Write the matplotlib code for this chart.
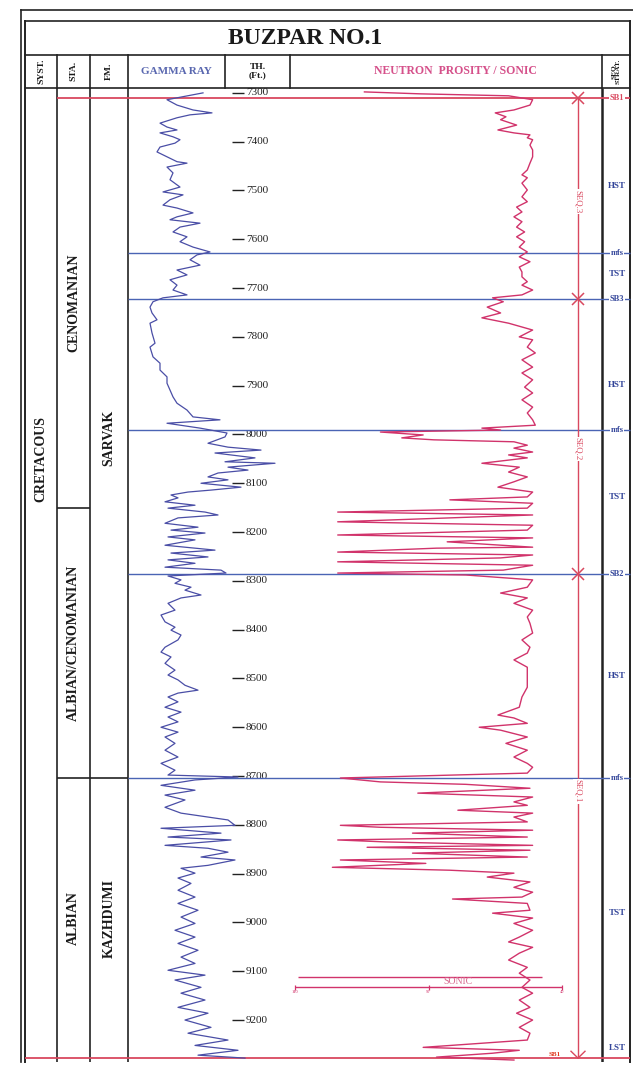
import matplotlib
matplotlib.use('Agg')
import matplotlib.pyplot as plt

plt.rcParams['font.family'] = ['Liberation Serif', 'DejaVu Serif']

gr_depth = [7300, 7314, 7325, 7335, 7341, 7345, 7351, 7362, 7370, 7376, 7382, 7390, 7396, 7403,
            7411, 7421, 7431, 7441, 7444, 7452, 7464, 7478, 7493, 7503, 7509, 7519, 7530, 7536,
            7546, 7554, 7560, 7567, 7575, 7585, 7595, 7605, 7616, 7626, 7632, 7642, 7653, 7663,
            7673, 7683, 7694, 7704, 7714, 7720, 7728, 7739, 7751, 7765, 7772, 7792, 7813, 7821,
            7841, 7854, 7868, 7882, 7895, 7909, 7923, 7936, 7950, 7964, 7970, 7977, 7987, 7997,
            8005, 8018, 8026, 8032, 8038, 8048, 8056, 8059, 8067, 8073, 8079, 8087, 8093, 8100,
            8108, 8114, 8118, 8124, 8130, 8138, 8145, 8151, 8159, 8165, 8171, 8182, 8190, 8196,
            8202, 8210, 8216, 8227, 8237, 8243, 8251, 8257, 8264, 8272, 8278, 8284, 8290, 8298,
            8305, 8313, 8319, 8329, 8335, 8346, 8360, 8370, 8384, 8395, 8401, 8411, 8421, 8436,
            8446, 8456, 8469, 8483, 8493, 8503, 8514, 8524, 8530, 8538, 8548, 8559, 8569, 8579,
            8589, 8600, 8610, 8620, 8633, 8647, 8661, 8674, 8688, 8698, 8702, 8708, 8719, 8729,
            8739, 8749, 8764, 8776, 8790, 8801, 8807, 8817, 8825, 8831, 8842, 8848, 8856, 8866,
            8872, 8883, 8889, 8899, 8909, 8920, 8934, 8948, 8961, 8975, 8989, 9002, 9016, 9030,
            9043, 9057, 9071, 9084, 9098, 9108, 9118, 9133, 9145, 9159, 9174, 9186, 9200, 9215,
            9227, 9241, 9252, 9262, 9272, 9278]
gr_api = [75, 39, 49, 65, 84, 62, 49, 32, 39, 49, 32, 45, 52, 47,
          32, 29, 39, 49, 59, 39, 45, 42, 52, 35, 55, 42, 35, 49,
          65, 49, 42, 72, 52, 45, 59, 52, 65, 82, 69, 62, 72, 49,
          59, 42, 49, 45, 59, 35, 25, 22, 24, 29, 22, 24, 27, 22,
          25, 32, 32, 39, 39, 42, 45, 49, 59, 65, 92, 39, 72, 99,
          97, 80, 100, 133, 87, 127, 97, 147, 100, 120, 90, 80, 100, 73,
          113, 83, 60, 43, 50, 37, 67, 40, 77, 90, 50, 37, 70, 43,
          77, 40, 67, 37, 87, 43, 80, 40, 67, 37, 93, 98, 40, 53,
          47, 63, 57, 73, 53, 40, 47, 33, 37, 47, 43, 53, 50, 37,
          33, 43, 37, 47, 40, 50, 57, 70, 50, 40, 50, 37, 53, 40,
          50, 33, 50, 37, 47, 37, 50, 33, 47, 40, 110, 67, 33, 67,
          37, 57, 37, 53, 100, 107, 33, 93, 40, 103, 37, 80, 100, 73,
          107, 80, 53, 67, 50, 63, 50, 67, 50, 70, 53, 67, 47, 67,
          50, 70, 53, 67, 40, 77, 47, 73, 53, 77, 50, 80, 57, 83,
          60, 100, 67, 110, 70, 117]

sonic_depth = [7298, 7302, 7306, 7314, 7325, 7335, 7341, 7349, 7355, 7366, 7376, 7382, 7386, 7392,
               7396, 7407, 7417, 7431, 7444, 7458, 7468, 7474, 7485, 7499, 7513, 7523, 7534, 7544,
               7554, 7564, 7575, 7585, 7595, 7605, 7616, 7626, 7636, 7646, 7657, 7667, 7677, 7687,
               7694, 7704, 7714, 7720, 7728, 7739, 7751, 7761, 7772, 7786, 7800, 7806, 7821, 7833,
               7847, 7862, 7874, 7888, 7903, 7915, 7929, 7944, 7956, 7970, 7981, 7987, 7991, 7995,
               8001, 8007, 8011, 8015, 8022, 8028, 8036, 8042, 8048, 8059, 8067, 8077, 8087, 8097,
               8108, 8118, 8128, 8134, 8141, 8151, 8159, 8165, 8175, 8179, 8186, 8196, 8206, 8212,
               8220, 8231, 8233, 8241, 8247, 8253, 8261, 8268, 8278, 8284, 8288, 8298, 8313, 8325,
               8335, 8346, 8360, 8374, 8387, 8407, 8421, 8436, 8448, 8462, 8477, 8497, 8518, 8538,
               8559, 8575, 8581, 8592, 8600, 8606, 8620, 8633, 8647, 8661, 8674, 8682, 8694, 8704,
               8712, 8717, 8725, 8735, 8743, 8753, 8760, 8770, 8776, 8784, 8794, 8801, 8805, 8811,
               8817, 8825, 8831, 8835, 8842, 8846, 8852, 8858, 8866, 8872, 8879, 8887, 8893, 8899,
               8907, 8917, 8928, 8938, 8948, 8952, 8961, 8975, 8981, 8991, 9002, 9016, 9030, 9040,
               9051, 9063, 9077, 9092, 9104, 9118, 9133, 9145, 9159, 9174, 9186, 9200, 9215, 9227,
               9241, 9256, 9262, 9268, 9276, 9282]
sonic_dt = [114, 93, 60, 51, 52, 58, 65, 61, 63, 57, 64, 58, 52, 53,
            51, 52, 51, 51, 52, 53, 55, 53, 55, 53, 55, 53, 57, 55,
            58, 55, 57, 54, 57, 54, 56, 53, 56, 52, 56, 55, 55, 53,
            55, 51, 55, 66, 62, 68, 63, 70, 60, 51, 56, 51, 53, 50,
            55, 51, 55, 51, 54, 51, 55, 51, 53, 51, 50, 70, 63, 108,
            92, 100, 88, 58, 53, 58, 51, 60, 53, 70, 56, 60, 53, 58,
            64, 51, 53, 82, 51, 53, 124, 51, 103, 124, 51, 53, 124, 51,
            83, 51, 87, 124, 51, 63, 124, 51, 62, 124, 76, 51, 53, 63,
            53, 58, 51, 53, 52, 51, 55, 52, 53, 58, 53, 53, 53, 55,
            56, 64, 58, 53, 71, 63, 53, 61, 53, 58, 53, 51, 53, 123,
            108, 76, 52, 94, 51, 58, 53, 79, 51, 58, 53, 123, 108, 51,
            96, 53, 124, 106, 51, 113, 52, 96, 53, 123, 91, 126, 82, 58,
            68, 52, 58, 51, 55, 81, 53, 52, 66, 51, 58, 51, 56, 60,
            51, 56, 60, 53, 56, 52, 55, 51, 56, 52, 57, 51, 56, 52,
            53, 92, 56, 66, 87, 58]

depth_ticks = [7300, 7400, 7500, 7600, 7700, 7800, 7900, 8000, 8100, 8200,
               8300, 8400, 8500, 8600, 8700, 8800, 8900, 9000, 9100, 9200]

surface_depths = [7310, 7628, 7722, 7990, 8286, 8704, 9278]
surface_names = ['SB1', 'mfs', 'SB3', 'mfs', 'SB2', 'mfs', 'SB1']
tract_names = ['HST', 'TST', 'HST', 'TST', 'HST', 'TST', 'LST']
tract_depths = [7491, 7671, 7899, 8128, 8495, 8981, 9258]
sequence_names = ['SEQ.3', 'SEQ.2', 'SEQ.1']
sequence_label_depths = [7523, 8030, 8731]
sequence_tops = [7310, 7722, 8286]

stage_names = ['CENOMANIAN', 'ALBIAN/CENOMANIAN', 'ALBIAN']
stage_tops = [7310, 8151, 8704]
formation_names = ['SARVAK', 'KAZHDUMI']
formation_tops = [7310, 8704]
system_name = 'CRETACOUS'
log_base = 9278

sonic_scale_ticks = [140, 90, 40]

# ---------------- layout (pixels) ----------------
W, H = 633, 1067
X_L, X_SYS, X_STA, X_FM, X_TH, X_NEU, X_SEQ, X_R = 25, 57, 90, 128, 225, 290, 602, 630
Y_T, Y_TITLE, Y_HEAD, Y_B = 21, 55, 88, 1062
D_TOP, D_BOT = 7290, 9286
X_SEQLINE = 578

GR_COL = '#4a4ea6'
SON_COL = '#d1336b'
RED = '#d9485f'
BLUE = '#4a64b4'
LBL_BLUE = '#34469a'

fig = plt.figure(figsize=(W / 100, H / 100), dpi=100)

# frame / header axes in pixel coordinates
axh = fig.add_axes([0, 0, 1, 1])
axh.set_xlim(0, W)
axh.set_ylim(H, 0)
axh.axis('off')

axh.plot([21, W], [10, 10], color='#222', lw=1.2)
axh.plot([21, 21], [10, Y_B], color='#222', lw=1.2)
for y in (Y_T, Y_TITLE, Y_HEAD):
    axh.plot([X_L, X_R], [y, y], color='#222', lw=1.2)
axh.plot([X_L, X_L], [Y_T, Y_B], color='#222', lw=1.4)
axh.plot([X_R, X_R], [Y_T, Y_B], color='#222', lw=1.4)
for x in (X_SYS, X_STA, X_FM, X_TH, X_NEU, X_SEQ):
    axh.plot([x, x], [Y_TITLE, Y_HEAD], color='#222', lw=1.2)

axh.text(305, 38, 'BUZPAR NO.1', ha='center', va='center',
         fontsize=17, fontweight='bold', color='#1a1a1a')
hdr_kw = dict(ha='center', va='center', fontweight='bold', color='#1a1a1a')
axh.text((X_L + X_SYS) / 2, 71, 'SYST.', rotation=90, fontsize=6.8, **hdr_kw)
axh.text((X_SYS + X_STA) / 2, 71, 'STA.', rotation=90, fontsize=6.8, **hdr_kw)
axh.text((X_STA + X_FM) / 2, 71, 'FM.', rotation=90, fontsize=6.8, **hdr_kw)
axh.text((X_TH + X_NEU) / 2, 71, 'TH.\n(Ft.)', fontsize=6.8, linespacing=1.0, **hdr_kw)
axh.text((X_SEQ + X_R) / 2, 71, 'SEQ.\nSTRAT.', rotation=90, fontsize=5.3,
         linespacing=0.95, **hdr_kw)
axh.text((X_FM + X_TH) / 2, 71, 'GAMMA RAY', ha='center', va='center',
         fontsize=8, fontweight='bold', color='#5a68b0')
axh.text(455, 71, 'NEUTRON  PROSITY / SONIC', ha='center', va='center',
         fontsize=8.5, fontweight='bold', color='#d5508a')

# body axes: x in pixels, y in depth
body_rect = [0, 1 - Y_B / H, 1, (Y_B - Y_HEAD) / H]
axb = fig.add_axes(body_rect)
axb.set_xlim(0, W)
axb.set_ylim(D_BOT, D_TOP)
axb.axis('off')
axb.patch.set_alpha(0)

# column dividers in body
axb.vlines([X_SYS, X_STA, X_FM], D_TOP, D_BOT, color='#222', lw=1.2)
axb.vlines([X_SEQ], D_TOP, D_BOT, color='#222', lw=1.8)
axb.hlines(stage_tops[1], X_SYS, X_STA, color='#222', lw=1.2)
axb.hlines(stage_tops[2], X_SYS, X_FM, color='#222', lw=1.2)

# stratigraphic column labels
col_kw = dict(ha='center', va='center', rotation=90, fontsize=10, fontweight='bold',
              color='#1a1a1a')
axb.text((X_L + X_SYS) / 2, 8050, system_name, **col_kw)
stage_bottoms = stage_tops[1:] + [log_base]
for name, t, b in zip(stage_names, stage_tops, stage_bottoms):
    axb.text((X_SYS + X_STA) / 2, (t + b) / 2, name, **col_kw)
form_bottoms = formation_tops[1:] + [log_base]
for name, t, b in zip(formation_names, formation_tops, form_bottoms):
    axb.text((X_STA + X_FM) / 2, (t + b) / 2, name, **col_kw)

# depth ticks
axb.hlines(depth_ticks, 232, 244, color='#222', lw=1.0)
for d in depth_ticks:
    axb.text(246, d, str(d), ha='left', va='center', fontsize=8, color='#222')

# surfaces
for d, name in zip(surface_depths, surface_names):
    if name == 'SB1':
        col, x0, lw = RED, (X_SYS if d == surface_depths[0] else X_L), 1.3
    else:
        col, x0, lw = BLUE, X_FM, 1.0
    axb.hlines(d, x0, X_R, color=col, lw=lw, zorder=3)
    if d != surface_depths[-1]:
        axb.text((X_SEQ + X_R) / 2 + 1, d, name, ha='center', va='center', fontsize=6,
                 fontweight='bold', color=(RED if name == 'SB1' else LBL_BLUE), zorder=5,
                 bbox=dict(facecolor='white', edgecolor='none', pad=0.3))
for d, name in zip(tract_depths, tract_names):
    axb.text((X_SEQ + X_R) / 2 + 1, d, name, ha='center', va='center', fontsize=6.5,
             fontweight='bold', color=LBL_BLUE)
axb.text(555, surface_depths[-1] - 2, 'SB1', ha='center', va='bottom', fontsize=5,
         fontweight='bold', color='#e03a20')

# sequence arrow line
axb.vlines(X_SEQLINE, sequence_tops[0], log_base, color=RED, lw=1.0, zorder=4)
axb.plot([X_SEQLINE] * len(sequence_tops), sequence_tops, 'x', color=RED, ms=8, mew=1.1,
         zorder=6)
axb.plot([X_SEQLINE - 7, X_SEQLINE, X_SEQLINE + 7], [log_base - 14, log_base, log_base - 14],
         color=RED, lw=1.0, zorder=6)
for name, d in zip(sequence_names, sequence_label_depths):
    axb.text(X_SEQLINE, d, name, ha='center', va='center', rotation=270, fontsize=6.3,
             color=RED, zorder=7, bbox=dict(facecolor='white', edgecolor='none', pad=0.5))

# gamma ray track
axg = fig.add_axes([X_FM / W, body_rect[1], (X_NEU - X_FM) / W, body_rect[3]])
axg.set_xlim(0, 162)
axg.set_ylim(D_BOT, D_TOP)
axg.axis('off')
axg.patch.set_alpha(0)
axg.plot(gr_api, gr_depth, color=GR_COL, lw=0.9, zorder=2)

# sonic track
axs = fig.add_axes([X_NEU / W, body_rect[1], (X_SEQ - X_NEU) / W, body_rect[3]])
axs.set_xlim(140 + (295 - X_NEU) / 2.67, 140 - (X_SEQ - 295) / 2.67)
axs.set_ylim(D_BOT, D_TOP)
axs.axis('off')
axs.patch.set_alpha(0)
axs.plot(sonic_dt, sonic_depth, color=SON_COL, lw=1.0, zorder=2)

# sonic scale bar
axs.hlines(9112, 139, 47.5, color=SON_COL, lw=1.0)
axs.hlines(9133, sonic_scale_ticks[0], sonic_scale_ticks[-1], color=SON_COL, lw=1.0)
axs.vlines(sonic_scale_ticks, 9129, 9138, color=SON_COL, lw=0.9)
for v in sonic_scale_ticks:
    axs.text(v, 9143, str(v), ha='center', va='center', fontsize=3.2, color=SON_COL)
axs.text(79, 9122, 'SONIC', ha='center', va='center', fontsize=7, color='#d86a90')

fig.savefig('out.png', dpi=100)
